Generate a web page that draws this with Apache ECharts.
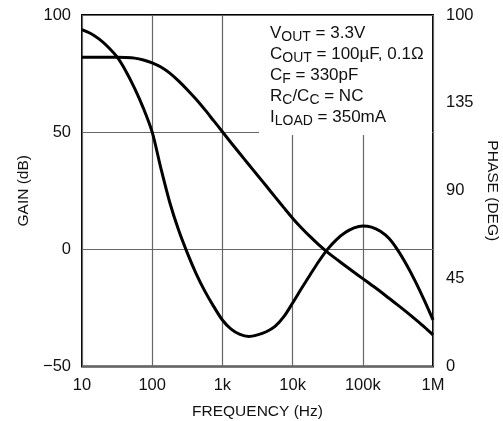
<!DOCTYPE html>
<html>
<head>
<meta charset="utf-8">
<script src="https://cdn.jsdelivr.net/npm/echarts@6/dist/echarts.min.js"></script>
<style>
  html, body { margin: 0; padding: 0; background: #fff; }
  #chart { width: 503px; height: 421px; }
</style>
</head>
<body>
<div id="chart"></div>
<script>
const FONT = '"Liberation Sans", Arial, sans-serif'

const freqs = [
  10, 13.3, 17.8, 23.7, 31.6, 42.2, 56.2, 75,
  100, 133, 178, 237, 316, 422, 562, 750,
  1000, 1330, 1780, 2370, 3160, 4220, 5620, 7500,
  10000, 13300, 17800, 23700, 31600, 42200, 56200, 75000,
  100000, 133000, 178000, 237000, 316000, 422000, 562000, 750000,
  1000000
]

// gain (dB), left axis
const gainDb = [
  82, 82, 82, 82, 82, 81.9, 81.6, 80.8,
  79.6, 77.8, 75.2, 71.9, 68.1, 64, 59.6, 54.9,
  50.2, 45.5, 40.8, 36.2, 31.6, 27, 22.4, 17.8,
  13.3, 9.2, 5.4, 1.9, -1.3, -4.2, -7, -9.8,
  -12.5, -15.2, -18, -20.9, -23.8, -26.8, -29.9, -33.1,
  -36.5
]

// phase (deg), right axis
const phaseDeg = [
  172.5, 170.5, 167.5, 163.5, 158.5, 151.2, 142.4, 132.2,
  120, 101.5, 84, 70, 58.2, 47.6, 38.6, 30.8,
  23.8, 19.1, 16.4, 15.4, 16.2, 17.8, 20.5, 25.5,
  32.5, 39.8, 47, 53.9, 60.1, 65, 68.6, 71,
  72, 71.4, 69.2, 65.5, 59.5, 52, 43.5, 34,
  23.9
]

const freqLabels = {10: '10', 100: '100', 1000: '1k', 10000: '10k', 100000: '100k', 1000000: '1M'}
const gainLabels = {'-50': '\u221250', 0: '0', 50: '50', 100: '100'}
const phaseLabels = {0: '0', 45: '45', 90: '90', 135: '135', 180: '100'}

const noteLines = [
  '{b|V}{s|OUT}{b| = 3.3V}',
  '{b|C}{s|OUT}{b| = 100\u00b5F, 0.1\u03a9}',
  '{b|C}{s|F}{b| = 330pF}',
  '{b|R}{s|C}{b|/C}{s|C}{b| = NC}',
  '{b|I}{s|LOAD}{b| = 350mA}'
]

const zip = (xs, ys) => xs.map((x, i) => [x, ys[i]])

const curveStyle = {
  type: 'line',
  smooth: 0.3,
  showSymbol: false,
  silent: true,
  lineStyle: { color: '#000', width: 3 }
}

const labelStyle = { color: '#111', fontSize: 16.5, fontFamily: FONT }
const nameStyle = { color: '#111', fontSize: 15.5, fontFamily: FONT }

const chart = echarts.init(document.getElementById('chart'))
chart.setOption({
  animation: false,
  backgroundColor: '#fff',
  grid: {
    left: 82, right: 70, top: 15, bottom: 54.5,
    outerBoundsMode: 'none',
    show: true, borderColor: '#000', borderWidth: 2, backgroundColor: 'transparent'
  },
  xAxis: {
    type: 'log',
    logBase: 10,
    min: 10,
    max: 1000000,
    name: 'FREQUENCY (Hz)',
    nameLocation: 'middle',
    nameGap: 37,
    nameTextStyle: nameStyle,
    axisLine: { show: false },
    axisTick: { show: false },
    axisLabel: { ...labelStyle, margin: 10, formatter: v => freqLabels[Math.round(v)] || '' },
    splitLine: { show: true, lineStyle: { color: '#666', width: 1.2 } },
    minorTick: { show: false }
  },
  yAxis: [
    {
      type: 'value',
      min: -50,
      max: 100,
      interval: 50,
      name: 'GAIN (dB)',
      nameLocation: 'middle',
      nameGap: 49,
      nameTextStyle: nameStyle,
      axisLine: { show: false },
      axisTick: { show: false },
      axisLabel: { ...labelStyle, margin: 11, formatter: v => gainLabels[v] },
      splitLine: { show: true, lineStyle: { color: '#666', width: 1.2 } }
    },
    {
      type: 'value',
      position: 'right',
      min: 0,
      max: 180,
      interval: 45,
      name: 'PHASE (DEG)',
      nameLocation: 'middle',
      nameRotate: -90,
      nameGap: 50,
      nameTextStyle: nameStyle,
      axisLine: { show: false },
      axisTick: { show: false },
      axisLabel: { ...labelStyle, margin: 13, formatter: v => phaseLabels[v] },
      splitLine: { show: false }
    }
  ],
  graphic: [
    {
      type: 'rect',
      z: 10,
      shape: { x: 259, y: 16, width: 173, height: 119 },
      style: { fill: '#fff' }
    },
    {
      type: 'text',
      z: 11,
      left: 270,
      top: 22,
      style: {
        text: noteLines.join('\n'),
        fill: '#111',
        rich: {
          b: { fontSize: 17, fontFamily: FONT, lineHeight: 21, fill: '#111' },
          s: { fontSize: 14, fontFamily: FONT, lineHeight: 13, padding: [8, 0, 0, 0], fill: '#111' }
        }
      }
    }
  ],
  series: [
    { ...curveStyle, name: 'gain', yAxisIndex: 0, data: zip(freqs, gainDb) },
    { ...curveStyle, name: 'phase', yAxisIndex: 1, data: zip(freqs, phaseDeg) }
  ]
})
</script>
</body>
</html>
